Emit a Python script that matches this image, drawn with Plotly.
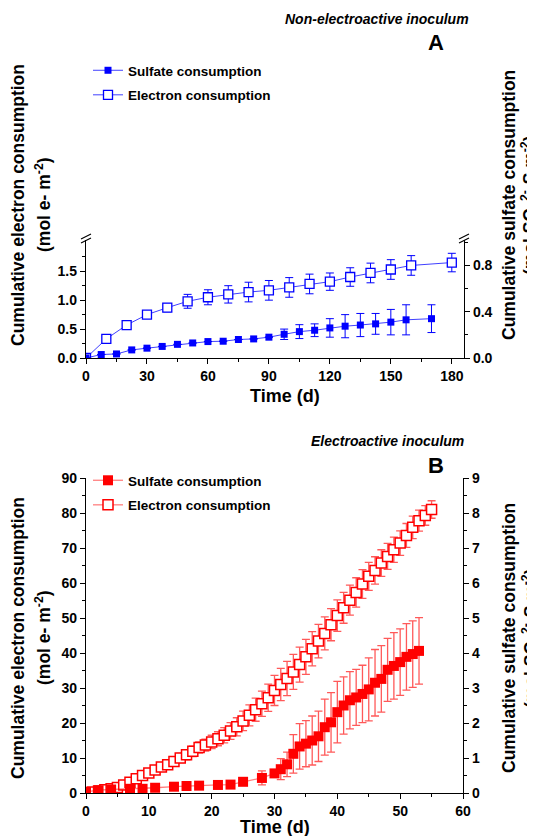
import plotly.graph_objects as go

# The page body has an 8px margin; lay out in reference-pixel coordinates shifted by it.
OFF = 8
W, H = 535 - OFF, 836 - OFF
def px(x): return (x - OFF) / W
def py(y): return 1 - (y - OFF) / H

# ---------- Panel A (non-electroactive) ----------
a_elec_t = [0, 10, 20, 30, 40, 50, 60, 70, 80, 90, 100, 110, 120, 130, 140, 150, 160, 180]
a_elec_v = [0.0, 0.33, 0.57, 0.75, 0.87, 0.98, 1.05, 1.10, 1.14, 1.17, 1.22, 1.28, 1.32, 1.40, 1.47, 1.53, 1.60, 1.65]
a_elec_e = [0.0, 0.03, 0.04, 0.03, 0.07, 0.12, 0.13, 0.15, 0.17, 0.17, 0.17, 0.17, 0.15, 0.16, 0.17, 0.17, 0.17, 0.16]

a_sulf_t = [0, 7.5, 15, 22.5, 30, 37.5, 45, 52.5, 60, 67.5, 75, 82.5, 90, 97.5, 105, 112.5,
            120, 127.5, 135, 142.5, 150, 157.5, 170]
a_sulf_v = [0.0, 0.03, 0.035, 0.07, 0.085, 0.10, 0.118, 0.13, 0.142, 0.145, 0.16, 0.165, 0.18, 0.205,
            0.228, 0.24, 0.26, 0.275, 0.285, 0.295, 0.31, 0.33, 0.34]
a_sulf_e = [0, 0, 0, 0, 0, 0, 0, 0, 0, 0, 0, 0, 0, 0.045, 0.06, 0.055, 0.08, 0.10, 0.10, 0.09,
            0.11, 0.13, 0.12]

# ---------- Panel B (electroactive) ----------
b_elec_t = list(range(0, 56))
b_elec_v = [0.0, 0.3, 0.6, 0.9, 1.2, 1.6, 2.3, 3.1, 4.1, 5.0, 5.7, 6.6, 7.4, 8.1, 9.0, 10.0, 10.9,
            11.9, 13.0, 13.7, 14.6, 15.5, 16.5, 17.7, 18.9, 20.6, 22.2, 23.8, 25.5, 27.2, 29.3,
            31.0, 32.7, 34.6, 36.7, 38.9, 41.2, 43.4, 45.6, 48.1, 50.7, 52.9, 55.1, 57.3, 59.7,
            61.9, 63.6, 65.7, 67.6, 69.5, 71.4, 73.6, 75.9, 77.8, 79.3, 81.0]
b_elec_e = [0.2, 0.2, 0.2, 0.3, 0.3, 0.4, 0.5, 0.5, 0.6, 0.7, 0.8, 0.9, 1.0, 1.1, 1.2, 1.3, 1.4,
            1.5, 1.6, 1.7, 1.9, 2.0, 2.2, 2.4, 2.6, 2.8, 3.0, 3.3, 3.6, 3.9, 4.3, 4.6, 4.9, 5.0,
            5.0, 5.0, 4.9, 4.8, 4.7, 4.6, 4.5, 4.4, 4.3, 4.2, 4.1, 4.0, 3.9, 3.8, 3.7, 3.6, 3.5,
            3.4, 3.2, 3.0, 2.8, 2.5]

b_sulf_t = [0, 2, 4, 7, 9, 11, 14, 16, 18, 21, 23, 25, 28, 30, 31, 32, 33, 34, 35, 36, 37, 38,
            39, 40, 41, 42, 43, 44, 45, 46, 47, 48, 49, 50, 51, 52, 53]
b_sulf_v = [0.03, 0.08, 0.10, 0.12, 0.12, 0.15, 0.18, 0.20, 0.21, 0.23, 0.24, 0.32, 0.43, 0.56,
            0.68, 0.82, 1.12, 1.33, 1.41, 1.50, 1.62, 1.88, 2.02, 2.31, 2.50, 2.65, 2.73, 2.83,
            2.96, 3.15, 3.26, 3.52, 3.63, 3.74, 3.89, 3.97, 4.06]
b_sulf_e = [0, 0, 0, 0, 0, 0, 0, 0, 0, 0, 0, 0.05, 0.2, 0.1, 0.3, 0.35, 0.55, 0.65, 0.66, 0.7,
            0.72, 0.8, 0.85, 0.88, 0.82, 0.82, 0.8, 0.82, 0.9, 0.95, 0.95, 0.9, 0.95, 0.95,
            0.95, 0.95, 0.95]

BLUE = "#0000ff"
RED = "#ff0000"
FONT = "Liberation Sans"

fig = go.Figure()

# Panel A traces
fig.add_trace(go.Scatter(
    x=a_sulf_t, y=a_sulf_v, xaxis="x", yaxis="y3", name="Sulfate consumption",
    mode="lines+markers", legend="legend", legendgroup="a1",
    line=dict(color="rgba(0,0,255,0.75)", width=1),
    marker=dict(symbol="square", size=7, color=BLUE),
    error_y=dict(type="data", array=a_sulf_e, color=BLUE, thickness=1, width=4)))
fig.add_trace(go.Scatter(
    x=a_elec_t, y=a_elec_v, xaxis="x", yaxis="y", name="Electron consumption",
    mode="lines+markers", legend="legend", legendgroup="a2",
    line=dict(color="rgba(0,0,255,0.75)", width=1),
    marker=dict(symbol="square", size=9, color="white", line=dict(color=BLUE, width=1.3)),
    error_y=dict(type="data", array=a_elec_e, color=BLUE, thickness=1, width=4)))

# Panel B traces
fig.add_trace(go.Scatter(
    x=b_sulf_t, y=b_sulf_v, xaxis="x2", yaxis="y6", name="Sulfate consumption",
    mode="lines+markers", legend="legend2", legendgroup="b1",
    line=dict(color="rgba(255,0,0,0.5)", width=1.3),
    marker=dict(symbol="square", size=10, color=RED),
    error_y=dict(type="data", array=b_sulf_e, color="rgba(255,0,0,0.65)", thickness=1.3, width=4)))
fig.add_trace(go.Scatter(
    x=b_elec_t, y=b_elec_v, xaxis="x2", yaxis="y5", name="Electron consumption",
    mode="lines+markers", legend="legend2", legendgroup="b2",
    line=dict(color="rgba(255,0,0,0.5)", width=1.3),
    marker=dict(symbol="square", size=10, color="white", line=dict(color=RED, width=1.5)),
    error_y=dict(type="data", array=b_elec_e, color="rgba(255,0,0,0.65)", thickness=1.3, width=4)))

tickfont = dict(family=FONT, size=14, color="black", weight="bold")
common = dict(showline=True, linecolor="black", linewidth=1.3, ticks="outside", ticklen=5,
              tickwidth=1.3, tickcolor="black", showgrid=False, zeroline=False, automargin=False,
              tickfont=tickfont)
def minor(**kw):
    d = dict(ticks="outside", ticklen=3, tickwidth=1.3, tickcolor="black")
    d.update(kw)
    return d

xA = (86, 464)
yA_low = (240, 358)
yA_up = (59, 237)
xB = (86, 463)
yB = (478, 793)

legfont = dict(family=FONT, size=13.5, color="black", weight="bold")
fig.update_layout(
    width=W, height=H, margin=dict(l=0, r=0, t=0, b=0, pad=0, autoexpand=False),
    plot_bgcolor="white", paper_bgcolor="white", showlegend=True,
    xaxis=dict(domain=[px(xA[0]), px(xA[1])], anchor="y", range=[0, 186],
               tickvals=[0, 30, 60, 90, 120, 150, 180], minor=minor(dtick=15), **common),
    yaxis=dict(domain=[py(yA_low[1]), py(yA_low[0])], anchor="x", range=[0, 2.04],
               tickvals=[0, 0.5, 1.0, 1.5], ticktext=["0.0", "0.5", "1.0", "1.5"],
               minor=minor(tickvals=[0.25, 0.75, 1.25, 1.75]), **common),
    yaxis2=dict(domain=[py(yA_up[1]), py(yA_up[0])], anchor="x", range=[64.8, 90],
                tickvals=[70, 80, 90], minor=minor(tickvals=[65, 75, 85]), **common),
    yaxis3=dict(overlaying="y", side="right", anchor="x", range=[0, 1.02],
                tickvals=[0, 0.4, 0.8], ticktext=["0.0", "0.4", "0.8"],
                minor=minor(tickvals=[0.2, 0.6, 1.0]), **common),
    yaxis4=dict(overlaying="y2", side="right", anchor="x", range=[3, 5],
                tickvals=[3, 4, 5], minor=minor(tickvals=[3.5, 4.5]), **common),
    xaxis2=dict(domain=[px(xB[0]), px(xB[1])], anchor="y5", range=[0, 60], dtick=10,
                minor=minor(dtick=5), **common),
    yaxis5=dict(domain=[py(yB[1]), py(yB[0])], anchor="x2", range=[0, 90], dtick=10,
                minor=minor(dtick=5), **common),
    yaxis6=dict(overlaying="y5", side="right", anchor="x2", range=[0, 9], dtick=1,
                minor=minor(dtick=0.5), **common),
    legend=dict(x=px(88), y=py(55), xanchor="left", yanchor="top", bgcolor="rgba(0,0,0,0)",
                font=legfont, tracegroupgap=4, itemwidth=30),
    legend2=dict(x=px(88), y=py(465), xanchor="left", yanchor="top", bgcolor="rgba(0,0,0,0)",
                 font=legfont, tracegroupgap=4, itemwidth=30),
)

ann = []
def txt(x, y, s, size=16, angle=0, italic=False, xanchor="center"):
    ann.append(dict(x=px(x), y=py(y), xref="paper", yref="paper", text=s, showarrow=False,
                    textangle=angle, xanchor=xanchor, yanchor="middle",
                    font=dict(family=FONT, size=size, color="black", weight="bold",
                              style="italic" if italic else "normal")))

txt(377, 19, "Non-electroactive inoculum", size=14, italic=True)
txt(436, 43, "A", size=22)
txt(387, 441, "Electroactive inoculum", size=14, italic=True)
txt(436, 465, "B", size=22)
for yc in (205, 638):
    txt(18, yc, "Cumulative electron consumption", size=17.5, angle=-90)
    txt(43, yc, "(mol e- m<sup>-2</sup>)", size=17.5, angle=-90)
    txt(509, yc, "Cumulative sulfate consumption", size=17.5, angle=-90)
    txt(531, yc, "(mol SO<sub>4</sub><sup>2-</sup>-S m<sup>-2</sup>)", size=17.5, angle=-90)
txt(285, 396, "Time (d)", size=18)
txt(275, 827, "Time (d)", size=18)
fig.update_layout(annotations=ann)

# axis break marks
shapes = []
for xb in (xA[0], xA[1]):
    for yb in (236.5, 240.5):
        shapes.append(dict(type="line", xref="paper", yref="paper",
                           x0=px(xb - 5), y0=py(yb + 2.5), x1=px(xb + 5), y1=py(yb - 2.5),
                           line=dict(color="black", width=1.2)))
fig.update_layout(shapes=shapes)

fig.write_html("out.html")
